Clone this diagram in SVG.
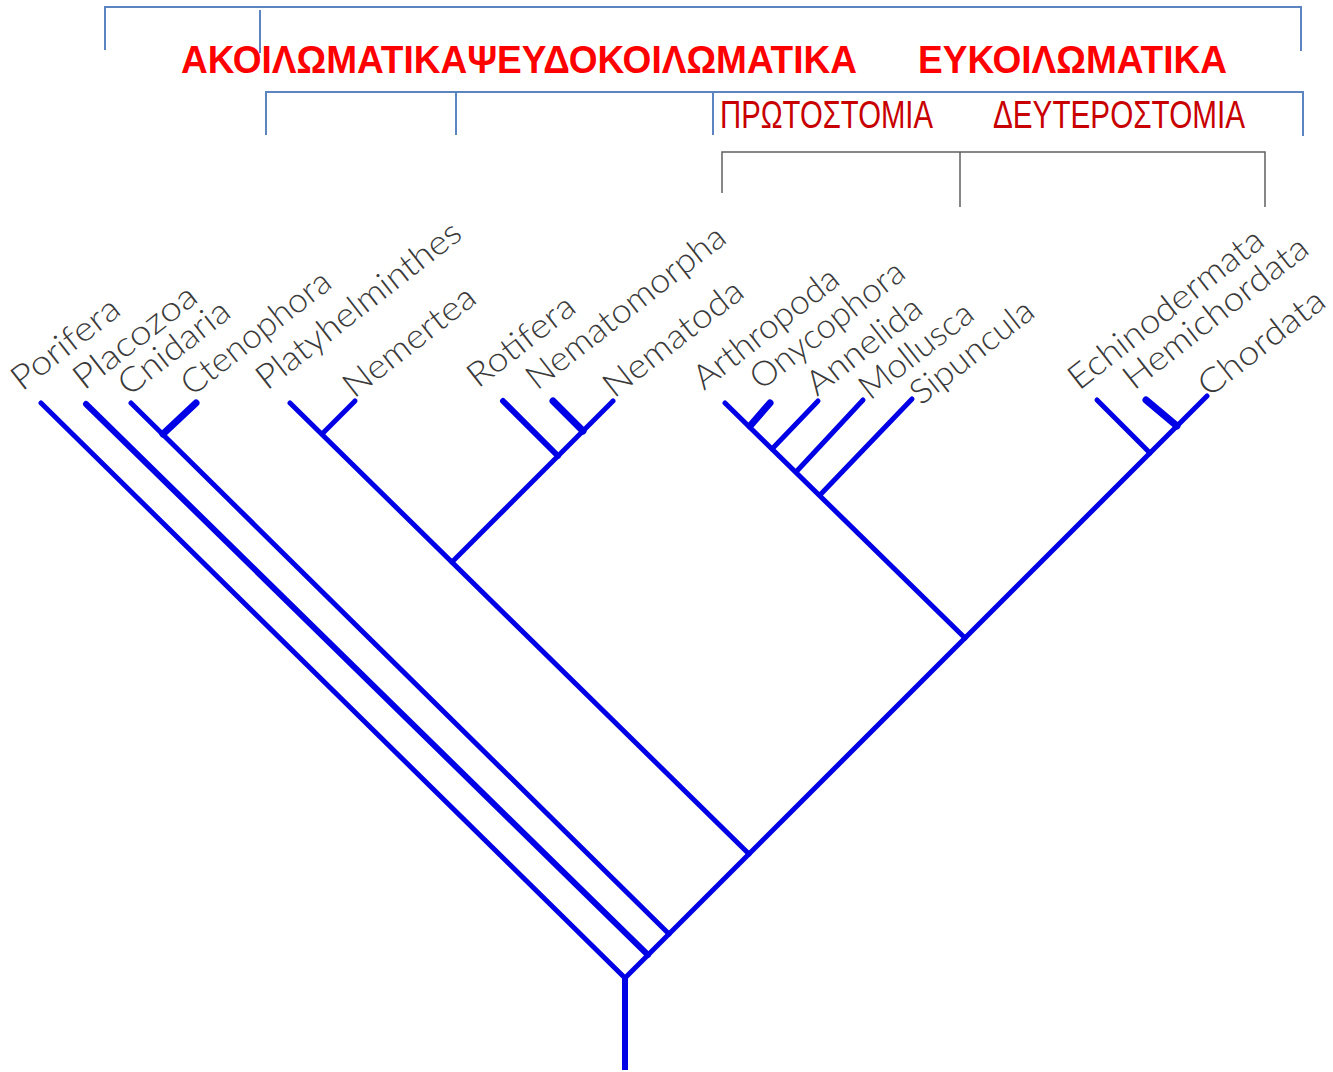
<svg xmlns="http://www.w3.org/2000/svg" width="1333" height="1072" viewBox="0 0 1333 1072">
<style>
.br{stroke:#5b84c0;stroke-width:2;fill:none}
.gb{stroke:#606060;stroke-width:1.5;fill:none}
.hd{font-family:"Liberation Sans",Arial,sans-serif;font-weight:bold;font-size:39px;fill:#ff0000}
.sd{font-family:"Liberation Sans",Arial,sans-serif;font-size:39px;fill:#c80000}
.tx{font-family:Lato,Inter,"DejaVu Sans",sans-serif;font-weight:300;font-size:34px;fill:#3a3a3a}
.ln{stroke:#0000e6;stroke-width:5;stroke-linecap:round;fill:none}
.lw{stroke-width:7}
</style>
<rect width="1333" height="1072" fill="#fff"/>
<g id="header">
<path class="br" d="M105,50V7H1301V51M260,10V53"/>
<path class="br" d="M266,135V92H1303V136M456,92V135M713,93V135"/>
<path class="gb" d="M722,193V152H1265V207M960,152V207"/>
<text class="hd" x="181" y="73" textLength="676" lengthAdjust="spacingAndGlyphs">ΑΚΟΙΛΩΜΑΤΙΚΑΨΕΥΔΟΚΟΙΛΩΜΑΤΙΚΑ</text>
<text class="hd" x="918" y="73" textLength="309" lengthAdjust="spacingAndGlyphs">ΕΥΚΟΙΛΩΜΑΤΙΚΑ</text>
<text class="sd" x="720" y="128" textLength="213" lengthAdjust="spacingAndGlyphs">ΠΡΩΤΟΣΤΟΜΙΑ</text>
<text class="sd" x="993" y="128" textLength="252" lengthAdjust="spacingAndGlyphs">ΔΕΥΤΕΡΟΣΤΟΜΙΑ</text>
</g>
<g id="connectors">
<path class="ln" style="stroke-width:6;stroke-linecap:butt" d="M625,978V1070"/>
<path class="ln" d="M41,403L625,978L1207,396"/>
<path class="ln" style="stroke-width:6" d="M86,404L648,955"/>
<path class="ln" d="M131,403L669,934"/>
<path class="ln lw" d="M196,403L163,434"/>
<path class="ln" d="M290,403L749,854"/>
<path class="ln" d="M355,401L322,434"/>
<path class="ln" d="M452,562L613,401"/>
<path class="ln" style="stroke-width:6" d="M503,401L558,456"/>
<path class="ln lw" d="M553,401L583,431"/>
<path class="ln" d="M965,638L725,403"/>
<path class="ln lw" d="M770,403L750,426"/>
<path class="ln" d="M818,401L772,449"/>
<path class="ln" d="M863,400L796,472"/>
<path class="ln" d="M912,399L820,495"/>
<path class="ln" d="M1097,400L1150,453"/>
<path class="ln lw" d="M1146,400L1177,426"/>
</g>
<g id="porifera"><text class="tx" transform="translate(22,392) rotate(-38)" textLength="128" lengthAdjust="spacingAndGlyphs">Porifera</text></g>
<g id="placozoa"><text class="tx" transform="translate(84,391) rotate(-38)" textLength="147" lengthAdjust="spacingAndGlyphs">Placozoa</text></g>
<g id="cnidaria"><text class="tx" transform="translate(129,397) rotate(-38)" textLength="132" lengthAdjust="spacingAndGlyphs">Cnidaria</text></g>
<g id="ctenophora"><text class="tx" transform="translate(192,397) rotate(-38)" textLength="180" lengthAdjust="spacingAndGlyphs">Ctenophora</text></g>
<g id="platyhelminthes"><text class="tx" transform="translate(267,391) rotate(-38)" textLength="250" lengthAdjust="spacingAndGlyphs">Platyhelminthes</text></g>
<g id="nemertea"><text class="tx" transform="translate(354,399) rotate(-38)" textLength="158" lengthAdjust="spacingAndGlyphs">Nemertea</text></g>
<g id="rotifera"><text class="tx" transform="translate(478,389) rotate(-38)" textLength="127" lengthAdjust="spacingAndGlyphs">Rotifera</text></g>
<g id="nematomorpha"><text class="tx" transform="translate(537,391) rotate(-38)" textLength="243" lengthAdjust="spacingAndGlyphs">Nematomorpha</text></g>
<g id="nematoda"><text class="tx" transform="translate(614,399) rotate(-38)" textLength="168" lengthAdjust="spacingAndGlyphs">Nematoda</text></g>
<g id="arthropoda"><text class="tx" transform="translate(704,391) rotate(-38)" textLength="175" lengthAdjust="spacingAndGlyphs">Arthropoda</text></g>
<g id="onycophora"><text class="tx" transform="translate(761,391) rotate(-38)" textLength="186" lengthAdjust="spacingAndGlyphs">Onycophora</text></g>
<g id="annelida"><text class="tx" transform="translate(817,397) rotate(-38)" textLength="137" lengthAdjust="spacingAndGlyphs">Annelida</text></g>
<g id="mollusca"><text class="tx" transform="translate(870,401) rotate(-38)" textLength="135" lengthAdjust="spacingAndGlyphs">Mollusca</text></g>
<g id="sipuncula"><text class="tx" transform="translate(921,406) rotate(-38)" textLength="147" lengthAdjust="spacingAndGlyphs">Sipuncula</text></g>
<g id="echinodermata"><text class="tx" transform="translate(1079,391) rotate(-38)" textLength="238" lengthAdjust="spacingAndGlyphs">Echinodermata</text></g>
<g id="hemichordata"><text class="tx" transform="translate(1134,391) rotate(-38)" textLength="225" lengthAdjust="spacingAndGlyphs">Hemichordata</text></g>
<g id="chordata"><text class="tx" transform="translate(1209,398) rotate(-38)" textLength="151" lengthAdjust="spacingAndGlyphs">Chordata</text></g>
</svg>
